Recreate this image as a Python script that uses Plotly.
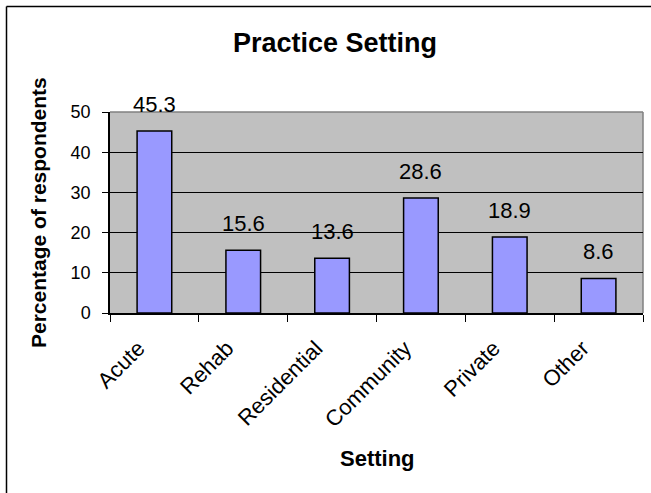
import plotly.graph_objects as go

# Practice setting survey results
categories = ["Acute", "Rehab", "Residential", "Community", "Private", "Other"]
percentages = [45.3, 15.6, 13.6, 28.6, 18.9, 8.6]
y_ticks = [0, 10, 20, 30, 40, 50]

W, H = 651, 493
M_L, M_R, M_T, M_B = 110, 8, 112, 180
PW, PH = W - M_L - M_R, H - M_T - M_B

FONT = "Liberation Sans, Arial, sans-serif"


def px_x(px):
    """Pixel column -> plot-area paper fraction."""
    return (px - M_L) / PW


def px_y(py):
    """Pixel row -> plot-area paper fraction."""
    return (H - M_B - py) / PH


fig = go.Figure()
fig.add_trace(go.Bar(
    x=categories,
    y=percentages,
    marker=dict(color="#9999FF", line=dict(color="black", width=1.5)),
    width=0.39,
    hoverinfo="x+y",
))

# value labels above each bar
for cat, val in zip(categories, percentages):
    fig.add_annotation(
        x=cat, y=val, xref="x", yref="y",
        text=f"{val:.1f}", showarrow=False,
        yanchor="bottom", yshift=12,
        font=dict(family=FONT, size=22, color="black"),
    )

# axis titles
fig.add_annotation(
    x=px_x(377), y=px_y(458), xref="paper", yref="paper",
    text="<b>Setting</b>", showarrow=False,
    xanchor="center", yanchor="middle",
    font=dict(family=FONT, size=22, color="black"),
)
fig.add_annotation(
    x=px_x(38), y=px_y(213), xref="paper", yref="paper",
    text="<b>Percentage of respondents</b>", showarrow=False,
    textangle=-90, xanchor="center", yanchor="middle",
    font=dict(family=FONT, size=21, color="black"),
)

# gray frame on the top and right of the plotting area
fig.add_shape(type="line", xref="paper", yref="paper", x0=0, x1=1, y0=1, y1=1,
              line=dict(color="#808080", width=1.5), layer="between")
fig.add_shape(type="line", xref="paper", yref="paper", x0=1, x1=1, y0=0, y1=1,
              line=dict(color="#808080", width=1.5), layer="between")

# outer chart frame
fig.add_shape(type="line", xref="paper", yref="paper",
              x0=px_x(6.5), x1=px_x(6.5), y0=px_y(H + 10), y1=px_y(6.5),
              line=dict(color="black", width=1.5), layer="above")
fig.add_shape(type="line", xref="paper", yref="paper",
              x0=px_x(6.5), x1=px_x(W + 10), y0=px_y(6.5), y1=px_y(6.5),
              line=dict(color="black", width=1.5), layer="above")

fig.update_layout(
    width=W, height=H,
    margin=dict(l=M_L, r=M_R, t=M_T, b=M_B),
    paper_bgcolor="white",
    plot_bgcolor="#C0C0C0",
    showlegend=False,
    bargap=0.61,
    title=dict(
        text="<b>Practice Setting</b>",
        x=335 / W, xref="container", xanchor="center",
        y=1 - 43 / H, yref="container", yanchor="middle",
        font=dict(family=FONT, size=27, color="black"),
    ),
    xaxis=dict(
        type="category",
        tickson="boundaries",
        ticks="outside", ticklen=7, tickcolor="black", tickwidth=1,
        tickangle=-45,
        tickfont=dict(family=FONT, size=22, color="black"),
        ticklabelstandoff=12,
        ticklabelshift=-16,
        showline=True, linecolor="black", linewidth=1.5,
        showgrid=False,
    ),
    yaxis=dict(
        range=[0, 50],
        tickvals=y_ticks,
        ticks="outside", ticklen=6, tickcolor="black", tickwidth=1,
        tickfont=dict(family=FONT, size=18, color="black"),
        ticklabelstandoff=8,
        showline=True, linecolor="black", linewidth=1.5,
        showgrid=True, gridcolor="black", gridwidth=1,
        zeroline=False,
    ),
)

fig.write_html("out.html")
